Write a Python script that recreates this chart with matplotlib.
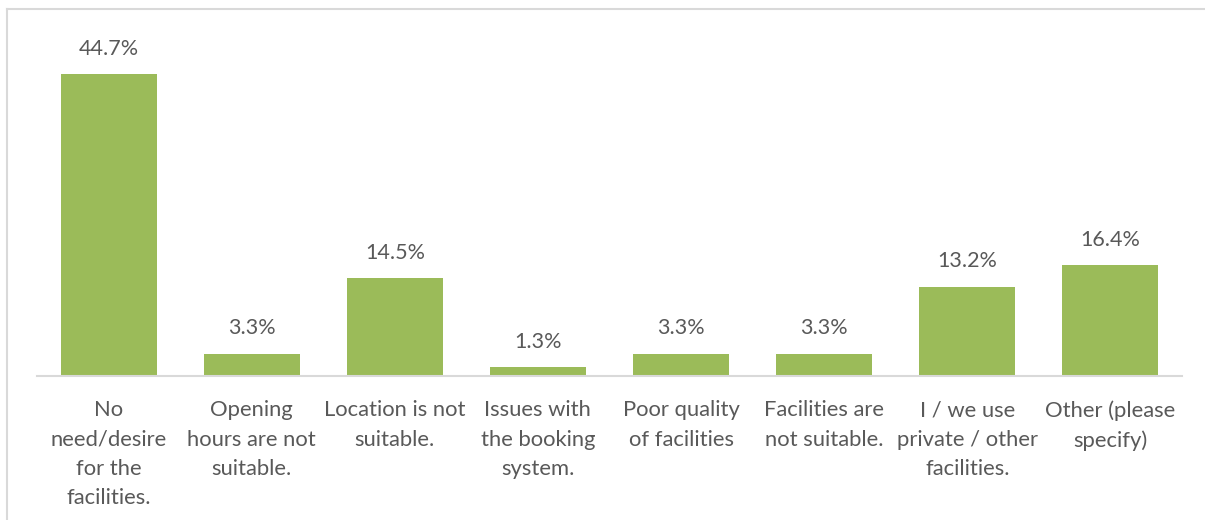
import matplotlib
matplotlib.use("Agg")
import matplotlib.pyplot as plt
from matplotlib.lines import Line2D

categories = [
    "No need/desire for the facilities.",
    "Opening hours are not suitable.",
    "Location is not suitable.",
    "Issues with the booking system.",
    "Poor quality of facilities",
    "Facilities are not suitable.",
    "I / we use private / other facilities.",
    "Other (please specify)",
]
tick_labels = [
    "No\nneed/desire\nfor the\nfacilities.",
    "Opening\nhours are not\nsuitable.",
    "Location is not\nsuitable.",
    "Issues with\nthe booking\nsystem.",
    "Poor quality\nof facilities",
    "Facilities are\nnot suitable.",
    "I / we use\nprivate / other\nfacilities.",
    "Other (please\nspecify)",
]
values = [44.7, 3.3, 14.5, 1.3, 3.3, 3.3, 13.2, 16.4]

plt.rcParams['font.family'] = ['Lato', 'DejaVu Sans']
W, H = 1205, 520
fig = plt.figure(figsize=(W / 100, H / 100), dpi=100)
ax = fig.add_axes([37 / W, 1 - 376 / H, (1182 - 37) / W, (376 - 38) / H])

x = range(len(categories))
bars = ax.bar(x, values, width=0.67, color="#9BBB59", zorder=2)
ax.set_xlim(-0.5, len(categories) - 0.5)
ax.set_ylim(0, 50)
for b, v in zip(bars, values):
    ax.annotate(f"{v:.1f}%", (b.get_x() + b.get_width() / 2, v),
                xytext=(0, 11), textcoords="offset points",
                ha="center", va="bottom", fontsize=15.5, color="#595959")

ax.set_xticks(list(x))
ax.set_xticklabels(tick_labels, fontsize=15.8, color="#595959", linespacing=1.58,
                   va="top")
ax.tick_params(axis="x", length=0, pad=17.5)
ax.set_yticks([])
for s in ["top", "right", "left"]:
    ax.spines[s].set_visible(False)
ax.spines["bottom"].set_color("#D9D9D9")
ax.spines["bottom"].set_linewidth(1.5)

# figure border (top and left)
fig.add_artist(Line2D([7.5 / W, 1.01], [1 - 8.5 / H, 1 - 8.5 / H], color="#D9D9D9",
                      lw=1.5, transform=fig.transFigure))
fig.add_artist(Line2D([7.5 / W, 7.5 / W], [-0.01, 1 - 8.5 / H], color="#D9D9D9",
                      lw=1.5, transform=fig.transFigure))

fig.savefig("out.png", dpi=100, facecolor="white")
